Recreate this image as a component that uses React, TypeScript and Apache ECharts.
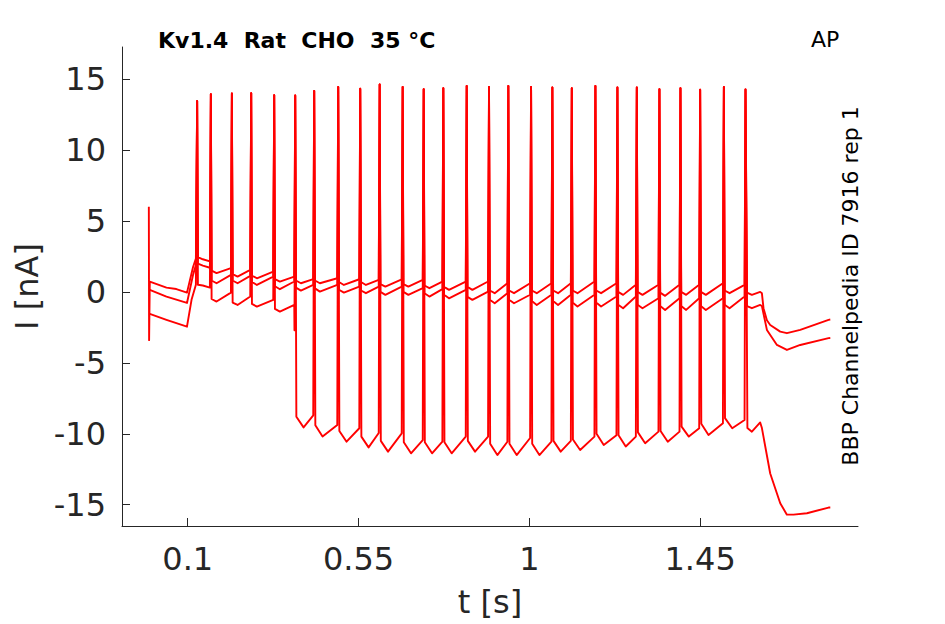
import React, { useEffect, useRef } from "react";
import * as echarts from "echarts";

// ---- axis ticks ----
const xTicks = [0.1, 0.55, 1, 1.45];
const xTickLabels = ["0.1", "0.55", "1", "1.45"];
const yTicks = [-15, -10, -5, 0, 5, 10, 15];
const yTickLabels = ["-15", "-10", "-5", "0", "5", "10", "15"];

// ---- spike (AP command) times [s] and peak currents [nA] ----
const spikeT = [
  0.1248, 0.1609, 0.2163, 0.2672, 0.3278, 0.3832, 0.4332, 0.4965, 0.5545,
  0.6057, 0.6663, 0.7217, 0.7734, 0.835, 0.8938, 0.9447, 1.0046, 1.0607,
  1.1119, 1.1741, 1.2321, 1.2832, 1.3428, 1.3982, 1.4501, 1.5126, 1.5696,
];
const spikePeak = [
  13.45, 13.94, 13.98, 14.01, 13.87, 13.84, 14.17, 14.44, 14.32, 14.62, 14.44,
  14.29, 14.36, 14.51, 14.44, 14.51, 14.44, 14.41, 14.36, 14.51, 14.41, 14.41,
  14.29, 14.36, 14.25, 14.44, 14.27,
];

// ---- trace 1 (top) ----
const topLead = [
  [-0.0025, 6.0], [-0.0018, -3.4], [0.0, 0.73], [0.044, 0.3], [0.07, 0.2],
  [0.098, -0.05], [0.114, 1.75], [0.1215, 2.35],
];
const topKnee = [2.45, 1.5, 1.25, 1.15, 0.9, 0.8, 0.8, 0.7, 0.7, 0.55, 0.55, 0.45, 0.35, 0.35, 0.1, 0.1, 0.1, 0.1, 0.1, 0.1, 0.0, 0.0, -0.05, 0.0, 0.0, 0.1];
const topTrough = [2.3, 1.32, 1.08, 0.96, 0.73, 0.61, 0.61, 0.49, 0.49, 0.37, 0.37, 0.26, 0.14, 0.14, -0.09, -0.09, -0.09, -0.09, -0.09, -0.09, -0.21, -0.21, -0.28, -0.21, -0.21, -0.09];
const topPre = [2.15, 1.67, 1.55, 1.43, 1.08, 0.9, 0.96, 0.89, 0.85, 0.89, 0.85, 0.73, 0.73, 0.73, 0.61, 0.61, 0.61, 0.61, 0.73, 0.61, 0.5, 0.5, 0.5, 0.5, 0.61, 0.5];
const topTail = [
  [1.5736, -0.05], [1.5864, -0.21], [1.6083, 0.0], [1.6128, -0.1],
  [1.617, -1.15], [1.626, -2.0], [1.6347, -2.33], [1.6611, -2.8],
  [1.6787, -2.91], [1.7138, -2.68], [1.7884, -1.97], [1.793, -1.95],
];

// ---- trace 2 (middle) ----
const midLead = [
  [0.0, 0.14], [0.044, -0.33], [0.098, -0.78], [0.114, 1.2], [0.1215, 1.9],
];
const midKnee = [2.0, 0.8, 0.8, 0.7, 0.4, 0.3, 0.25, 0.15, 0.1, 0.0, 0.0, -0.1, -0.2, -0.35, -0.55, -0.55, -0.65, -0.65, -0.75, -0.75, -0.9, -0.9, -1.0, -1.0, -1.0, -0.9];
const midTrough = [1.85, 0.61, 0.61, 0.49, 0.19, 0.09, 0.02, -0.05, -0.09, -0.21, -0.21, -0.33, -0.45, -0.56, -0.8, -0.8, -0.92, -0.92, -1.03, -1.03, -1.15, -1.15, -1.27, -1.27, -1.27, -1.15];
const midPre = [1.7, 1.2, 1.13, 1.08, 0.73, 0.49, 0.49, 0.37, 0.37, 0.37, 0.26, 0.2, 0.14, 0.02, -0.09, -0.2, -0.2, -0.2, -0.2, -0.33, -0.33, -0.45, -0.45, -0.45, -0.45, -0.33];
const midTail = [
  [1.5736, -1.0], [1.5864, -1.15], [1.6083, -0.92], [1.6128, -1.0],
  [1.626, -2.68], [1.6524, -3.74], [1.6787, -4.09], [1.7138, -3.74],
  [1.7884, -3.26], [1.793, -3.25],
];

// ---- trace 3 (bottom) ----
const botLead = [
  [0.0, -1.55], [0.044, -1.97], [0.098, -2.45], [0.11, -0.56], [0.1215, 0.5],
];
const botKnee = [0.5, -0.5, -0.75, -0.85, -1.2, -8.8, -9.4, -9.8, -10.2, -10.5, -10.6, -10.6, -10.6, -10.5, -10.7, -10.7, -10.7, -10.5, -10.4, -10.0, -10.1, -9.9, -9.8, -9.5, -9.3, -8.9];
const botTrough = [0.45, -0.68, -0.92, -1.04, -1.39, -9.55, -10.2, -10.56, -10.96, -11.26, -11.38, -11.38, -11.38, -11.26, -11.5, -11.5, -11.5, -11.26, -11.14, -10.79, -10.9, -10.67, -10.56, -10.2, -10.09, -9.61];
const botPre = [0.3, -0.05, -0.33, -0.57, -0.92, -8.7, -9.38, -9.61, -9.95, -9.97, -10.44, -10.56, -10.2, -10.2, -10.56, -10.3, -10.56, -10.5, -10.2, -10.1, -10.2, -9.85, -9.85, -9.61, -9.26, -9.03];
const botExtra = [[0.3812, -2.7]];
const botTail = [
  [1.5746, -9.6], [1.5864, -9.85], [1.6083, -9.2], [1.6128, -9.6],
  [1.6347, -12.8], [1.6611, -14.9], [1.6787, -15.7], [1.6961, -15.7],
  [1.7314, -15.6], [1.7884, -15.2], [1.793, -15.2],
];

function buildTrace(
  lead: number[][],
  knee: number[],
  trough: number[],
  pre: number[],
  tail: number[][],
  extra: number[][] = []
) {
  const pts: number[][] = lead.map((p) => [p[0], p[1]]);
  for (let i = 0; i < spikeT.length; i++) {
    pts.push([spikeT[i], spikePeak[i]]);
    if (i < spikeT.length - 1) {
      const deep = trough[i] < -5;
      pts.push([spikeT[i] + (deep ? 0.003 : 0.002), knee[i]]);
      pts.push([spikeT[i] + (deep ? 0.022 : 0.015), trough[i]]);
      pts.push([spikeT[i + 1] - 0.0025, pre[i]]);
    }
  }
  tail.forEach((p) => pts.push([p[0], p[1]]));
  extra.forEach((p) => pts.push([p[0], p[1]]));
  pts.sort((a, b) => a[0] - b[0]);
  return pts;
}

const AX = "#262626";
const FONT = '"DejaVu Sans", sans-serif';

export default function App() {
  const ref = useRef<HTMLDivElement>(null);
  useEffect(() => {
    if (!ref.current) return;
    const chart = echarts.init(ref.current, null, { renderer: "svg" });
    const traces = [
      buildTrace(topLead, topKnee, topTrough, topPre, topTail),
      buildTrace(midLead, midKnee, midTrough, midPre, midTail),
      buildTrace(botLead, botKnee, botTrough, botPre, botTail, botExtra),
    ];
    chart.setOption({
      animation: false,
      backgroundColor: "#ffffff",
      grid: { left: 122, top: 47, width: 736, height: 479, containLabel: false },
      xAxis: {
        type: "value",
        min: -0.0732,
        max: 1.866,
        name: "t [s]",
        nameLocation: "middle",
        nameGap: 60,
        nameTextStyle: { fontSize: 32, color: AX, fontFamily: FONT },
        axisLine: { show: true, onZero: false, lineStyle: { color: AX, width: 1 } },
        axisTick: { show: true, inside: true, length: 8, customValues: xTicks, lineStyle: { color: AX, width: 1 } },
        axisLabel: {
          show: true,
          customValues: xTicks,
          fontSize: 32,
          color: AX,
          fontFamily: FONT,
          margin: 17,
          formatter: (v: number) => xTickLabels[xTicks.findIndex((t) => Math.abs(t - v) < 1e-9)] ?? "",
        },
        splitLine: { show: false },
      },
      yAxis: {
        type: "value",
        min: -16.5,
        max: 17.26,
        name: "I [nA]",
        nameLocation: "middle",
        nameRotate: 90,
        nameGap: 78,
        nameTextStyle: { fontSize: 32, color: AX, fontFamily: FONT },
        axisLine: { show: true, onZero: false, lineStyle: { color: AX, width: 1 } },
        axisTick: { show: true, inside: true, length: 8, customValues: yTicks, lineStyle: { color: AX, width: 1 } },
        axisLabel: {
          show: true,
          customValues: yTicks,
          fontSize: 32,
          color: AX,
          fontFamily: FONT,
          margin: 16,
          formatter: (v: number) => yTickLabels[yTicks.findIndex((t) => Math.abs(t - v) < 1e-9)] ?? "",
        },
        splitLine: { show: false },
      },
      graphic: [
        {
          type: "text",
          x: 158,
          y: 40,
          style: { text: "Kv1.4  Rat  CHO  35 °C", font: `bold 22px ${FONT}`, fill: "#000", align: "left", verticalAlign: "middle" },
        },
        {
          type: "text",
          x: 811,
          y: 39,
          style: { text: "AP", font: `22px ${FONT}`, fill: "#000", align: "left", verticalAlign: "middle" },
        },
        {
          type: "text",
          x: 850,
          y: 286,
          rotation: Math.PI / 2,
          style: { text: "BBP Channelpedia ID 7916 rep 1", font: `22px ${FONT}`, fill: "#000", align: "center", verticalAlign: "middle" },
        },
      ],
      series: traces.map((d) => ({
        type: "line",
        data: d,
        showSymbol: false,
        symbol: "none",
        smooth: false,
        clip: true,
        lineStyle: { color: "#ff0000", width: 1.9, join: "round" },
        itemStyle: { color: "#ff0000" },
        emphasis: { disabled: true },
      })),
    });
    return () => chart.dispose();
  }, []);
  return (
    <div
      ref={ref}
      style={{ position: "absolute", left: 0, top: 0, width: 945, height: 624, background: "#fff" }}
    />
  );
}
